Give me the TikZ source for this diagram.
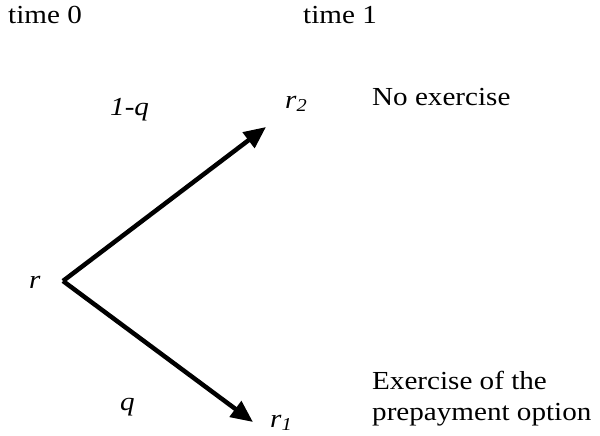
\documentclass[tikz,border=0pt]{standalone}
\usepackage{fontspec}
\setmainfont[FakeStretch=1.12]{Liberation Serif}
\usetikzlibrary{arrows.meta}
\begin{document}
\begin{tikzpicture}[x=1pt,y=-1pt,
  lbl/.style={inner sep=0pt,anchor=base west,font=\fontsize{26}{31}\selectfont},
  arr/.style={line width=4.5pt,-{Triangle[length=22pt,width=19pt]}}]
\useasboundingbox (0,0) rectangle (600,436);
\node[lbl] (t0) at (8,24) {time 0};
\node[lbl] (t1) at (303,24) {time 1};
\node[lbl] (pq) at (110,115) {\textit{1-q}};
\node[lbl] (r2) at (285,108) {\textit{r}\textsubscript{\textit{2}}};
\node[lbl] (ne) at (372,106) {No exercise};
\node[lbl] (r) at (29,288) {\textit{r}};
\node[lbl] (q) at (120,410) {\textit{q}};
\node[lbl] (r1) at (270,427) {\textit{r}\textsubscript{\textit{1}}};
\node[lbl,align=left,anchor=north west] (ex) at (372,371) {Exercise of the\\prepayment option};
\coordinate (o) at (63,281);
\coordinate (e2) at (266,127);
\coordinate (e1) at (253,422);
\draw[arr] (o) -- (e2);
\draw[arr] (o) -- (e1);
\end{tikzpicture}
\end{document}
